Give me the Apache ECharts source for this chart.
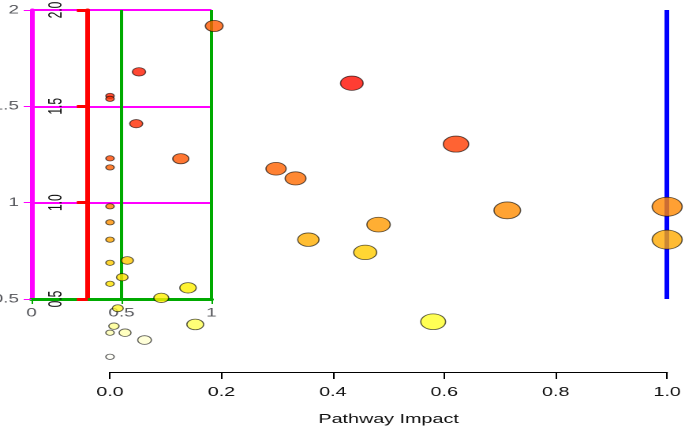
<!DOCTYPE html>
<html>
<head>
<meta charset="utf-8">
<script src="https://cdn.jsdelivr.net/npm/echarts@6/dist/echarts.min.js"></script>
<style>
  html, body { margin: 0; padding: 0; background: #fff; overflow: hidden; }
  #wrap { width: 685px; height: 431px; overflow: hidden; }
  #chart { width: 434px; height: 431px; transform: scaleX(1.5783); transform-origin: 0 0; }
</style>
</head>
<body>
<div id="wrap"><div id="chart"></div></div>
<script>
const impact = [0.187, 0.052, 0.000, 0.000, 0.047, 0.434, 0.621, 0.000, 0.127, 0.000,
                0.298, 0.333, 0.000, 1.000, 0.713, 0.000, 0.482, 0.000, 0.356, 1.000,
                0.458, 0.000, 0.031, 0.022, 0.000, 0.140, 0.092, 0.014, 0.580, 0.153,
                0.007, 0.000, 0.027, 0.062, 0.000];
const logP   = [1.917, 1.679, 1.554, 1.539, 1.410, 1.620, 1.304, 1.230, 1.228, 1.183,
                1.176, 1.126, 0.981, 0.979, 0.960, 0.898, 0.886, 0.808, 0.808, 0.808,
                0.742, 0.688, 0.700, 0.613, 0.579, 0.558, 0.506, 0.452, 0.382, 0.368,
                0.359, 0.325, 0.325, 0.287, 0.200];
const pointColors = ['#FF5A00', '#FF1A00', '#FF2200', '#FF2E00', '#FF2A00', '#FF0D00', '#FF3C00', '#FF4800', '#FF5500', '#FF6000',
                     '#FF6200', '#FF6C00', '#FF7800', '#FF8800', '#FF8C00', '#FF9000', '#FF9A00', '#FFA800', '#FFAE00', '#FFAA00',
                     '#FFCC00', '#FFCC00', '#FFC800', '#FFE000', '#FFE200', '#FFF000', '#FFF000', '#FFF52A', '#FFFF2A', '#FFFF55',
                     '#FFFF90', '#FFFFB0', '#FFFFB0', '#FFFFD0', '#FFFFF8'];
const xTicks = [0, 0.2, 0.4, 0.6, 0.8, 1.0];
const yTicks = [0.5, 1.0, 1.5, 2.0];

const points = impact.map((x, i) => ({ value: [x, logP[i]], itemStyle: { color: pointColors[i] } }));

const font = 'Liberation Sans, Arial, sans-serif';
const chart = echarts.init(document.getElementById('chart'), null, { renderer: 'canvas', devicePixelRatio: 2 });
chart.setOption({
  animation: false,
  backgroundColor: '#fff',
  grid: [
    { left: 55.7, right: 11.3, top: 10, bottom: 132, outerBoundsMode: 'none' },
    { left: 69.7, right: 11.3, top: 10, bottom: 132, outerBoundsMode: 'none' },
    { left: 20, right: 300, top: 10, bottom: 132, outerBoundsMode: 'none' }
  ],
  xAxis: [
    { gridIndex: 0, type: 'value', min: 0, max: 1, interval: 1,
      axisLine: { show: false }, axisTick: { show: false }, axisLabel: { show: false },
      splitLine: { show: true, lineStyle: { color: '#00f', width: 3 } } },
    {
      gridIndex: 1, type: 'value', min: 0, max: 1, interval: 0.2,
      position: 'bottom', offset: 73,
      name: 'Pathway Impact', nameLocation: 'middle', nameGap: 41,
      nameTextStyle: { fontFamily: font, fontSize: 12.5, color: '#111' },
      axisLine: { show: true, onZero: false, lineStyle: { color: '#000', width: 1 } },
      axisTick: { show: true, length: 7, lineStyle: { color: '#000', width: 1 } },
      axisLabel: { margin: 14, fontFamily: font, fontSize: 12.5, color: '#111', formatter: v => v.toFixed(1) },
      splitLine: { show: false }
    },
    { gridIndex: 2, type: 'value', min: 0, max: 1, interval: 0.5,
      axisLine: { show: true, lineStyle: { color: '#0a0', width: 3 } },
      splitLine: { show: true, lineStyle: { color: '#0a0', width: 2 } } }
  ],
  yAxis: [
    {
      gridIndex: 0, type: 'value', min: 0.5, max: 2, interval: 0.5, position: 'left',
      axisLine: { show: true, onZero: false, lineStyle: { color: '#f00', width: 3 } },
      axisTick: { show: true, length: 7, lineStyle: { color: '#f00', width: 3 } },
      axisLabel: { margin: 14, rotate: 90, fontFamily: font, fontSize: 12, color: '#111', formatter: v => v.toFixed(1) },
      splitLine: { show: false }
    },
    { gridIndex: 1, type: 'value', min: 0.5, max: 2, show: false },
    { gridIndex: 2, type: 'value', min: 0.5, max: 2, interval: 0.5,
      axisLine: { show: true, lineStyle: { color: '#f0f', width: 3 } },
      splitLine: { show: true, lineStyle: { color: '#f0f', width: 2 } } }
  ],
  series: [{
    type: 'scatter', xAxisIndex: 1, yAxisIndex: 1, clip: false,
    symbolSize: d => 5.3 + 13.7 * Math.sqrt(d[0]),
    itemStyle: { borderColor: 'rgba(0,0,0,0.8)', borderWidth: 0.8 },
    data: points
  }]
});
</script>
</body>
</html>
